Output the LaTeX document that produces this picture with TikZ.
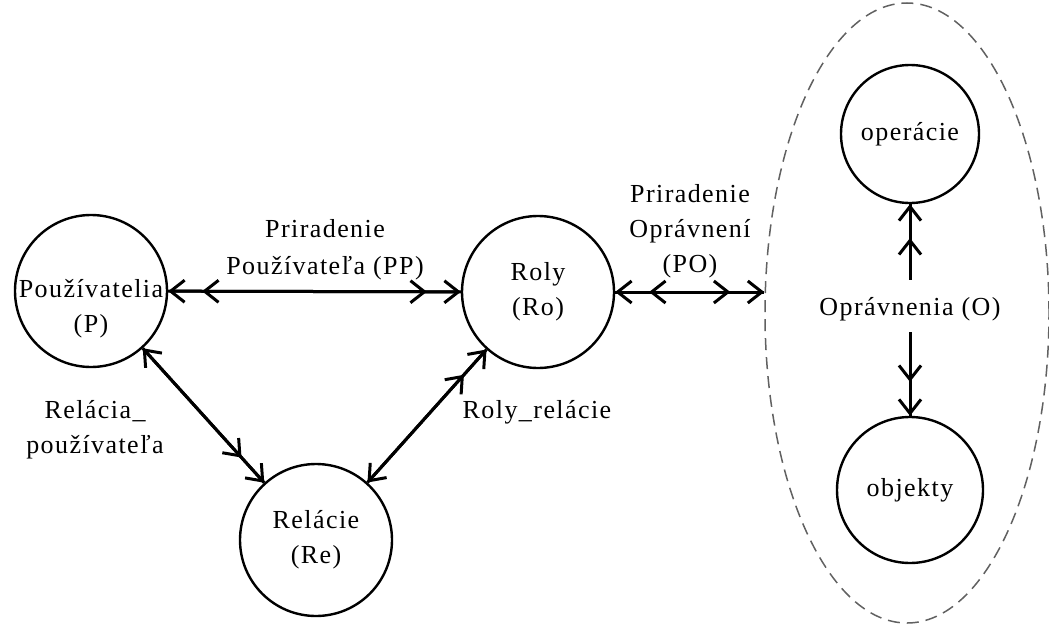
\documentclass[tikz,border=0pt]{standalone}
\usepackage{fontspec}
\setmainfont{Liberation Serif}[LetterSpace=5.5]
\usetikzlibrary{arrows.meta,shapes.geometric}
\tikzset{
  barb/.tip={Straight Barb[length=14pt,width=22pt]},
  dblbarb/.tip={Straight Barb[length=14pt,width=22pt,sep=16pt]
                Straight Barb[length=14pt,width=22pt]},
}
\begin{document}
\begin{tikzpicture}[x=1pt,y=-1pt,
  every node/.style={font=\fontsize{26}{35}\selectfont},
  state/.style={circle, draw, line width=2.4pt, inner sep=0pt,
    minimum size=152pt, align=center},
  lbl/.style={align=center, inner sep=0pt},
  connector/.style={line width=3pt, postaction={draw, #1}},
]
\useasboundingbox (0,0) rectangle (1049,626);

% entities
\node[state, label={[lbl, yshift=-18pt]center:Používatelia\\(P)}] (P) at (91,291) {};
\node[state] (Ro) at (538,292) {Roly\\(Ro)};
\node[state] (Re) at (316,540) {Relácie\\(Re)};

% permissions group
\node[ellipse, draw=black!62, dashed, dash pattern=on 12pt off 7pt,
  line width=1.5pt, minimum width=284pt, minimum height=620pt,
  inner sep=0pt] (perm) at (907,313) {};
\node[state, minimum size=138pt] (op)  at (910,134) {operácie};
\node[state, minimum size=146pt] (obj) at (910,490) {objekty};
\node[inner sep=0pt, text height=35pt, text depth=17pt, anchor=base]
  (O) at (910,315) {Oprávnenia (O)};

% relation labels
\node[lbl, font=\fontsize{26}{37}\selectfont] (lPP) at (325,250)
  {Priradenie\\Používateľa (PP)};
\node[lbl] (lPO) at (690,231) {Priradenie\\Oprávnení\\(PO)};
\node[lbl] (lPRe) at (95,430) {Relácia\_\\používateľa};
\node[lbl, anchor=base] (lRoRe) at (537,418) {Roly\_relácie};

% connectors
\draw[connector={{dblbarb}-{dblbarb}}] (P) -- (Ro);
\draw[connector={{dblbarb}-{dblbarb}}] (Ro) -- (perm.west |- Ro);
\draw[connector={{barb}-{dblbarb}}] (P) -- (Re);
\draw[connector={{dblbarb}-{barb}}] (Ro) -- (Re);
\draw[connector={-{dblbarb}}] (O.north) -- (op);
\draw[connector={-{dblbarb}}] (O.south) -- (obj);
\end{tikzpicture}
\end{document}
